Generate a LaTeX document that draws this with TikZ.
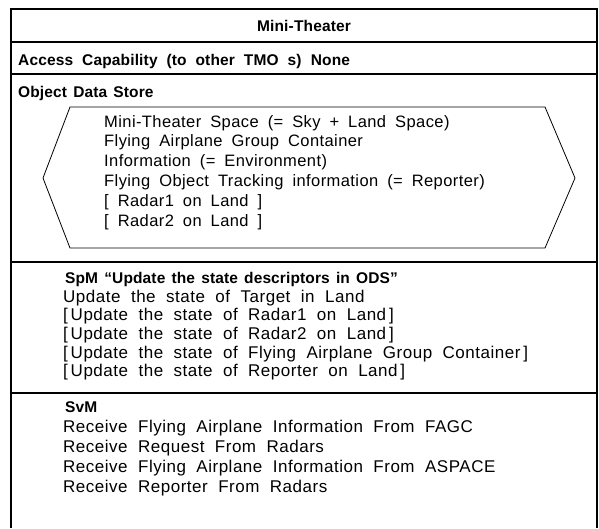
\documentclass[tikz,border=0pt]{standalone}
\usepackage{fontspec}
\setmainfont{Liberation Sans}
\newfontfamily\bodyfont[WordSpace={1.8,1,1},LetterSpace=2.5]{Liberation Sans}
\newfontfamily\listfont[WordSpace={2.0,1,1},LetterSpace=3]{Liberation Sans}
\newfontfamily\headfont[WordSpace={2.0,1,1},LetterSpace=1]{Liberation Sans}
\newfontfamily\headnarrowfont[WordSpace={1.4,1,1},LetterSpace=0.8]{Liberation Sans}
\begin{document}
\begin{tikzpicture}[x=1pt,y=-1pt,
  frame/.style={line width=1.1pt},
  divider/.style={line width=1.1pt},
  hexline/.style={line width=0.8pt, line join=miter},
  title/.style={font=\headfont\fontsize{15.5}{18}\selectfont\bfseries, inner sep=0pt, anchor=base},
  head/.style={font=\headfont\fontsize{15.5}{18}\selectfont\bfseries, inner sep=0pt, anchor=base west},
  headnarrow/.style={head, font=\headnarrowfont\fontsize{15.5}{18}\selectfont\bfseries},
  body/.style={font=\bodyfont\fontsize{16.5}{19}\selectfont, inner sep=0pt, anchor=base west},
  listitem/.style={body, font=\listfont\fontsize{17}{19}\selectfont}]
\useasboundingbox (0,0) rectangle (599,528);

% outer frame, open at the bottom
\draw[frame] (11,528) -- (11,9) -- (597,9) -- (597,528);
% section dividers
\draw[divider] (11,42) -- (597,42);
\draw[divider] (11,74) -- (597,74);
\draw[divider] (11,262) -- (597,262);
\draw[divider] (11,393) -- (597,393);

% header rows
\node[title] (mt) at (304,31) {Mini-Theater};
\node[head] (acc) at (18,65) {Access Capability (to other TMO s)\hspace{0.6em}None};
\node[headnarrow] (ods) at (18,97) {Object Data Store};

% object data store contents
\draw[hexline] (70,107) -- (545,107) -- (575,178) -- (545,248) -- (70,248) -- (43,178) -- cycle;
\foreach \t [count=\i] in {{Mini-Theater Space (= Sky + Land Space)},
  {Flying Airplane Group Container},
  {Information (= Environment)},
  {Flying Object Tracking information (= Reporter)},
  {{[} Radar1 on Land ]},
  {{[} Radar2 on Land ]}}
  \node[body] (odsitem\i) at (104,{127+19.8*(\i-1)}) {\t};

% SpM section
\node[headnarrow] (spm) at (65,283) {SpM “Update the state descriptors in ODS”};
\foreach \t [count=\i] in {{Update the state of Target in Land},
  {{[}\,Update the state of Radar1 on Land\,]},
  {{[}\,Update the state of Radar2 on Land\,]},
  {{[}\,Update the state of Flying Airplane Group Container\,]},
  {{[}\,Update the state of Reporter on Land\,]}}
  \node[listitem] (spmitem\i) at (63,{302+18.7*(\i-1)}) {\t};

% SvM section
\node[headnarrow] (svm) at (65,412) {SvM};
\foreach \t [count=\i] in {{Receive Flying Airplane Information From FAGC},
  {Receive Request From Radars},
  {Receive Flying Airplane Information From ASPACE},
  {Receive Reporter From Radars}}
  \node[listitem] (svmitem\i) at (63,{432+20*(\i-1)}) {\t};
\end{tikzpicture}
\end{document}
